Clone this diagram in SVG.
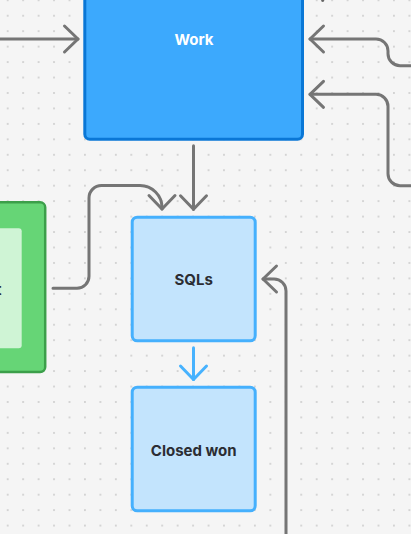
<svg xmlns="http://www.w3.org/2000/svg" width="411" height="534" viewBox="0 0 411 534">
<defs>
<pattern id="dots" patternUnits="userSpaceOnUse" x="0" y="8" width="15.45" height="15.45">
<circle cx="7.7" cy="7.7" r="0.9" fill="#c6c6c6"/>
</pattern>
<marker id="ah" markerUnits="userSpaceOnUse" viewBox="-16 -16 20 32" markerWidth="20" markerHeight="32" refX="0" refY="0" orient="auto" overflow="visible">
<path d="M-13.5,-13 L0,0 L-13.5,13" fill="none" stroke="#757575" stroke-width="3" stroke-linecap="round" stroke-linejoin="round"/>
</marker>
<marker id="ahb" markerUnits="userSpaceOnUse" viewBox="-16 -16 20 32" markerWidth="20" markerHeight="32" refX="0" refY="0" orient="auto" overflow="visible">
<path d="M-13.5,-13 L0,0 L-13.5,13" fill="none" stroke="#47b2fe" stroke-width="3" stroke-linecap="round" stroke-linejoin="round"/>
</marker>
</defs>
<style>
.conn{fill:none;stroke:#757575;stroke-width:3;stroke-linecap:round;stroke-linejoin:round;marker-end:url(#ah)}
.connb{fill:none;stroke:#47b2fe;stroke-width:3;stroke-linecap:round;marker-end:url(#ahb)}
.light{fill:#c3e4fd;stroke:#45b0fd;stroke-width:3}
.lbl{font-family:Inter,"Liberation Sans",sans-serif;font-size:15px;font-weight:700;text-anchor:middle;dominant-baseline:central}
</style>
<rect width="411" height="534" fill="#f5f5f5"/>
<rect width="411" height="534" fill="url(#dots)"/>

<g id="work">
<rect x="84.8" y="-20" width="217.7" height="159.2" rx="5" fill="#3ca9fd" stroke="#0a77d6" stroke-width="3"/>
<text class="lbl" x="194" y="39.5" fill="#ffffff">Work</text>
</g>

<g id="sqls">
<rect class="light" x="132.2" y="217.2" width="123" height="123.6" rx="5"/>
<text class="lbl" x="193.7" y="279.5" fill="#2b2d33">SQLs</text>
</g>

<g id="closed-won">
<rect class="light" x="132.2" y="387.2" width="123" height="123.6" rx="5"/>
<text class="lbl" x="193.7" y="450" fill="#2b2d33">Closed won</text>
</g>

<g id="green-node">
<rect x="-20" y="202.3" width="65.2" height="169.8" rx="5" fill="#66d576" stroke="#3c9f4a" stroke-width="2.5"/>
<rect x="-20" y="228.3" width="41.7" height="120" rx="3" fill="#cff4d5"/>
<text x="1.6" y="289" font-family="Inter,'Liberation Sans',sans-serif" font-size="15" font-weight="700" text-anchor="end" dominant-baseline="central" fill="#2b2d33">t</text>
</g>

<g id="connectors">
<path class="conn" d="M0 39 H78"/>
<path class="conn" d="M411 65.7 H400 A12 12 0 0 1 388 53.7 V51 A12 12 0 0 0 376 39 H310"/>
<path class="conn" d="M411 185.7 H400 A12 12 0 0 1 388 173.7 V106.3 A12 12 0 0 0 376 94.3 H310"/>
<path class="conn" d="M193.5 145.7 V209.3"/>
<path class="conn" d="M53 288.3 H77 A12 12 0 0 0 89 276.3 V198 A12.5 12.5 0 0 1 101.5 185.5 H140 A22 22 0 0 1 162 207.5 V209"/>
<path class="conn" d="M286 536 V291 A12 12 0 0 0 274 279 H263"/>
<path class="connb" d="M193.5 347.7 V379.5"/>
<circle cx="322.7" cy="0.3" r="1.6" fill="#666666"/>
</g>
</svg>
